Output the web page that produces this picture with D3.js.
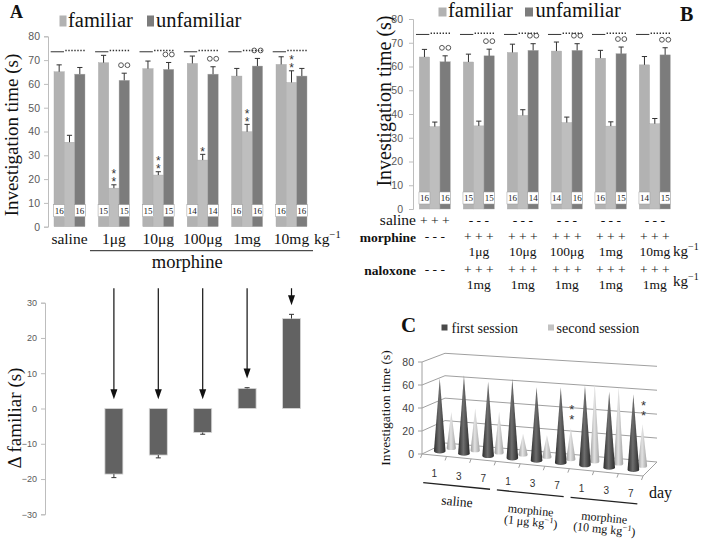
<!DOCTYPE html>
<html><head><meta charset="utf-8">
<script src="https://cdn.jsdelivr.net/npm/d3@7"></script>
<style>body{margin:0;background:#fff}svg{display:block}</style>
</head><body>
<svg id="c" width="709" height="543"></svg>
<script>
// ---------------- DATA ----------------
// Panel A (top)
const groupsA = ["saline","1μg","10μg","100μg","1mg","10mg"];
const familiarA = [65.1, 68.9, 66.4, 68.6, 63.3, 68.2];
const familiarErrA = [2.9, 3.1, 3.2, 3.1, 3.2, 3.2];
const secondA = [35.5, 16.2, 21.7, 28.0, 39.9, 60.6];
const secondErrA = [2.9, 1.4, 1.4, 2.4, 3.1, 4.9];
const unfamiliarA = [64.1, 61.5, 66.1, 64.1, 67.5, 63.3];
const unfamiliarErrA = [2.8, 3.0, 2.9, 3.1, 3.2, 3.2];
const countsA = [[16,16],[15,15],[15,15],[14,14],[16,16],[16,16]];
const starsA = [0, 2, 2, 1, 2, 2];
const circlesA = [false, true, true, true, true, false];
const ticksA = [0,10,20,30,40,50,60,70,80];
// Panel A (bottom)
const deltaGroups = ["1μg","10μg","100μg","1mg","10mg"];
const deltaFamiliar = [-18.6, -13.2, -6.8, 5.7, 25.5];
const deltaErr = [1.0, 0.8, 0.5, 0.2, 1.2];
const ticksDelta = [-30,-20,-10,0,10,20,30];
// Panel B
const groupsB = ["saline","1μg","10μg","100μg","1mg","10mg"];
const familiarB = [64.0, 61.9, 65.9, 66.5, 63.5, 60.7];
const familiarErrB = [3.2, 3.3, 3.5, 3.8, 3.3, 3.5];
const secondB = [34.7, 35.0, 39.4, 36.4, 34.9, 35.9];
const secondErrB = [1.9, 2.0, 2.4, 2.3, 1.8, 2.2];
const unfamiliarB = [62.0, 64.5, 66.8, 66.8, 65.4, 64.9];
const unfamiliarErrB = [2.5, 2.8, 2.8, 2.8, 2.8, 3.0];
const countsB = [[16,16],[15,15],[16,14],[14,16],[16,15],[14,15]];
const circlesB = [true, true, true, true, true, true];
const salineRow = ["+ + +","- - -","- - -","- - -","- - -","- - -"];
const morphineRow = ["- - -","+ + +","+ + +","+ + +","+ + +","+ + +"];
const morphineDose = ["","1μg","10μg","100μg","1mg","10mg"];
const naloxoneRow = ["- - -","+ + +","+ + +","+ + +","+ + +","+ + +"];
const naloxoneDose = ["","1mg","1mg","1mg","1mg","1mg"];
// Panel C
const daysC = ["1","3","7","1","3","7","1","3","7"];
const treatmentsC = ["saline","morphine|(1 μg kg","morphine|(10 mg kg"];
const firstSession = [63.8, 67.9, 64.0, 68.0, 62.6, 64.0, 67.0, 63.2, 62.5];
const secondSession = [31.8, 36.6, 35.6, 18.2, 19.0, 26.7, 65.9, 64.4, 34.9];
const starsC = [0,0,0,0,0,2,0,0,2];
const ticksC = [0,20,40,60,80];

// ---------------- HELPERS ----------------
const svg = d3.select("#c");
const SERIF = "'Liberation Serif','Times New Roman',serif";
const SANS = "'Liberation Sans',Arial,sans-serif";
const cFam = "#b2b2b2", cSec = "#bebebe", cUnf = "#7c7c7c";

function txt(g, x, y, s, o = {}) {
  const t = g.append("text").attr("x", x).attr("y", y).text(s)
    .attr("font-family", o.font || SERIF).attr("font-size", o.size || 14)
    .attr("fill", o.fill || "#111").attr("text-anchor", o.anchor || "start");
  if (o.weight) t.attr("font-weight", o.weight);
  if (o.rotate) t.attr("transform", `rotate(${o.rotate},${x},${y})`);
  return t;
}
function sup(t, s, size, dy) {
  t.append("tspan").attr("dy", -dy).attr("font-size", size).text(s);
  return t;
}
// stacked asterisks as one text element; bottom star centred near yBottom
function starStack(g, cx, yBottom, n, size, gap) {
  const t = g.append("text").attr("font-family", SANS).attr("font-size", size)
    .attr("fill", "#333").attr("text-anchor", "middle");
  for (let k = 0; k < n; k++) {
    t.append("tspan").attr("x", cx)
      .attr("y", yBottom - gap * (n - 1 - k) + size * 0.55).text("*");
  }
  return t;
}
function styleAxis(ax, fs) {
  ax.select(".domain").attr("stroke", "#bdbdbd");
  ax.selectAll(".tick line").attr("stroke", "#bdbdbd");
  ax.selectAll(".tick text").attr("fill", "#5a5a5a").attr("font-family", SANS).attr("font-size", fs);
}

function barPanel(cfg) {
  const { x, y, series, errs, colors, counts, countOff, stars, circles, sigV } = cfg;
  const g = svg.append("g");
  const sub = d3.scaleBand().domain(d3.range(series.length)).range([0, x.bandwidth()]);
  const groups = x.domain();
  groups.forEach((grp, gi) => {
    series.forEach((s, si) => {
      g.append("rect").attr("x", x(grp) + sub(si)).attr("y", y(s[gi]))
        .attr("width", sub.bandwidth()).attr("height", y(0) - y(s[gi]))
        .attr("fill", colors[si]).attr("stroke", "#a9a9a9").attr("stroke-width", 0.4);
    });
  });
  groups.forEach((grp, gi) => {
    series.forEach((s, si) => {
      const v = s[gi], e = errs[si][gi];
      const cx = x(grp) + sub(si) + sub.bandwidth() / 2;
      g.append("line").attr("x1", cx).attr("x2", cx).attr("y1", y(v)).attr("y2", y(v + e))
        .attr("stroke", "#333").attr("stroke-width", 1);
      g.append("line").attr("x1", cx - 2.6).attr("x2", cx + 2.6).attr("y1", y(v + e)).attr("y2", y(v + e))
        .attr("stroke", "#333").attr("stroke-width", 1);
    });
    [0, 2].forEach((si, k) => {
      const cx = x(grp) + sub(si) + sub.bandwidth() / 2;
      const cy = y(0) - countOff;
      g.append("rect").attr("x", cx - 5.5).attr("y", cy - 6).attr("width", 11).attr("height", 12)
        .attr("fill", "#fff").attr("stroke", "#9a9a9a").attr("stroke-width", 0.5);
      txt(g, cx, cy + 3.2, String(counts[gi][k]), { size: 9, anchor: "middle", fill: "#222" });
    });
    const x0 = x(grp);
    g.append("line").attr("x1", x0 - 3.3).attr("x2", x0 + 10).attr("y1", y(sigV)).attr("y2", y(sigV))
      .attr("stroke", "#333").attr("stroke-width", 1);
    g.append("line").attr("x1", x0 + 11.3).attr("x2", x0 + x.bandwidth()).attr("y1", y(sigV) - 1.2).attr("y2", y(sigV) - 1.2)
      .attr("stroke", "#333").attr("stroke-width", 1.6).attr("stroke-dasharray", "1.4,1.6");
    if (circles[gi]) {
      const cx = x(grp) + sub(2) + sub.bandwidth() / 2;
      const cy = y(series[2][gi] + errs[2][gi]) - 8;
      [-3.2, 3.2].forEach(d => g.append("circle").attr("cx", cx + d).attr("cy", cy).attr("r", 2.4)
        .attr("fill", "none").attr("stroke", "#444").attr("stroke-width", 0.9));
    }
    if (stars && stars[gi]) {
      const cx = x(grp) + sub(1) + sub.bandwidth() / 2;
      const top = y(series[1][gi] + errs[1][gi]);
      starStack(g, cx, top - 5, stars[gi], 12, 8);
    }
  });
  return sub;
}

// ---------------- PANEL A (top) ----------------
const gA = svg.append("g");
txt(gA, 10, 18, "A", { size: 18, weight: "bold" });
gA.append("rect").attr("x", 59.5).attr("y", 15.5).attr("width", 7).attr("height", 11).attr("fill", cFam);
txt(gA, 68, 26.5, "familiar", { size: 20.5 });
gA.append("rect").attr("x", 147).attr("y", 15.5).attr("width", 7).attr("height", 11).attr("fill", cUnf);
txt(gA, 156, 26.5, "unfamiliar", { size: 20.5 });

const xA = d3.scaleBand().domain(groupsA).range([48, 313]).paddingInner(0.302).paddingOuter(0.135);
const yA = d3.scaleLinear().domain([0, 80]).range([226.7, 36.3]);
const axA = gA.append("g").attr("transform", "translate(48,0)")
  .call(d3.axisLeft(yA).tickValues(ticksA).tickSize(4).tickPadding(4));
styleAxis(axA, 10.5);
const subA = barPanel({ x: xA, y: yA, series: [familiarA, secondA, unfamiliarA],
  errs: [familiarErrA, secondErrA, unfamiliarErrA], colors: [cFam, cSec, cUnf],
  counts: countsA, countOff: 16, stars: starsA, circles: circlesA, sigV: 73.5 });
txt(gA, 18, 135, "Investigation time (s)", { size: 19, anchor: "middle", rotate: -90 });
groupsA.forEach(gp => txt(gA, xA(gp) + xA.bandwidth() / 2, 243.5, gp, { size: 15.5, anchor: "middle" }));
sup(txt(gA, 314, 243.5, "kg", { size: 15.5 }), "−1", 10.5, 6);
gA.append("line").attr("x1", xA("1μg") - 8.4).attr("x2", xA("10mg") + xA.bandwidth() + 6)
  .attr("y1", 250.7).attr("y2", 250.7).attr("stroke", "#222").attr("stroke-width", 1);
txt(gA, xA("100μg"), 268, "morphine", { size: 18.5, anchor: "middle" });

// ---------------- PANEL A (bottom) ----------------
const gD = svg.append("g");
const yD = d3.scaleLinear().domain([-30, 30]).range([514.3, 302.7]);
const axD = gD.append("g").attr("transform", "translate(45,0)")
  .call(d3.axisLeft(yD).tickValues(ticksDelta).tickSize(4).tickPadding(4));
styleAxis(axD, 9);
txt(gD, 21, 418, "Δ familiar (s)", { size: 19, anchor: "middle", rotate: -90 });
deltaGroups.forEach((gp, i) => {
  const cx = xA(gp) + subA(1) + subA.bandwidth() / 2;
  const v = deltaFamiliar[i], e = deltaErr[i];
  gD.append("rect").attr("x", cx - 9).attr("y", Math.min(yD(v), yD(0))).attr("width", 18)
    .attr("height", Math.abs(yD(v) - yD(0))).attr("fill", "#626262").attr("stroke", "#d8d8d8").attr("stroke-width", 0.8);
  const ve = v < 0 ? v - e : v + e;
  gD.append("line").attr("x1", cx).attr("x2", cx).attr("y1", yD(v)).attr("y2", yD(ve)).attr("stroke", "#333");
  gD.append("line").attr("x1", cx - 2.5).attr("x2", cx + 2.5).attr("y1", yD(ve)).attr("y2", yD(ve)).attr("stroke", "#333");
  const tip = yD(Math.max(0, ve) + 2.6);
  gD.append("line").attr("x1", cx).attr("x2", cx).attr("y1", yD(34.1)).attr("y2", tip - 8).attr("stroke", "#111").attr("stroke-width", 1.2);
  gD.append("path").attr("d", `M${cx - 3.5},${tip - 10} L${cx + 3.5},${tip - 10} L${cx},${tip} Z`).attr("fill", "#111");
});

// ---------------- PANEL B ----------------
const gB = svg.append("g");
txt(gB, 680, 21, "B", { size: 20, weight: "bold" });
gB.append("rect").attr("x", 438.5).attr("y", 7.5).attr("width", 8).attr("height", 9).attr("fill", cFam);
txt(gB, 448, 16.7, "familiar", { size: 20.5 });
gB.append("rect").attr("x", 525).attr("y", 7.5).attr("width", 8).attr("height", 9).attr("fill", cUnf);
txt(gB, 535.5, 16.7, "unfamiliar", { size: 20.5 });
const xB = d3.scaleBand().domain(groupsB).range([413, 676.6]).paddingInner(0.295).paddingOuter(0.143);
const yB = d3.scaleLinear().domain([0, 80]).range([209, 19]);
const axB = gB.append("g").attr("transform", "translate(413,0)")
  .call(d3.axisLeft(yB).tickValues(ticksA).tickSize(4).tickPadding(6));
styleAxis(axB, 10.5);
barPanel({ x: xB, y: yB, series: [familiarB, secondB, unfamiliarB],
  errs: [familiarErrB, secondErrB, unfamiliarErrB], colors: [cFam, cSec, cUnf],
  counts: countsB, countOff: 11, stars: null, circles: circlesB, sigV: 73.5 });
txt(gB, 391, 101, "Investigation time (s)", { size: 20, anchor: "middle", rotate: -90 });
const cB = gp => xB(gp) + xB.bandwidth() / 2;
txt(gB, 416, 225, "saline", { size: 15.5, anchor: "end" });
txt(gB, 416, 242, "morphine", { size: 13.5, anchor: "end", weight: "bold" });
txt(gB, 416, 275, "naloxone", { size: 13.5, anchor: "end", weight: "bold" });
groupsB.forEach((gp, i) => {
  txt(gB, cB(gp), 225, salineRow[i], { size: 13.5, anchor: "middle" });
  txt(gB, cB(gp), 241, morphineRow[i], { size: 13.5, anchor: "middle" });
  txt(gB, cB(gp), 256, morphineDose[i], { size: 13.5, anchor: "middle" });
  txt(gB, cB(gp), 274, naloxoneRow[i], { size: 13.5, anchor: "middle" });
  txt(gB, cB(gp), 289, naloxoneDose[i], { size: 13.5, anchor: "middle" });
});
sup(txt(gB, 673, 256, "kg", { size: 15 }), "−1", 10, 6);
sup(txt(gB, 673, 286, "kg", { size: 15 }), "−1", 10, 6);

// ---------------- PANEL C ----------------
const gC = svg.append("g");
txt(gC, 401, 332, "C", { size: 21, weight: "bold" });
gC.append("rect").attr("x", 441.5).attr("y", 324.5).attr("width", 6).attr("height", 6).attr("fill", "#4a4a4a");
txt(gC, 451.5, 333, "first session", { size: 14 });
gC.append("rect").attr("x", 548).attr("y", 324.5).attr("width", 6).attr("height", 6).attr("fill", "#c2c2c2");
txt(gC, 556.5, 333, "second session", { size: 14 });

const uC = d3.scaleBand().domain(d3.range(9)).range([0, 1]);
const vC = d3.scaleLinear().domain([0, 80]).range([0, 1]);
function proj(u, w, v) {
  const x = (1 - u) * (422 + 23 * w) + u * (643 + 14 * w);
  const y0 = (1 - u) * (454 - 11 * w) + u * (476 - 14 * w);
  const k = (1 - u) * (92 - 2.3 * w) + u * (97 - 1.3 * w);
  return [x, y0 - k * vC(v)];
}
const line = d3.line();
const gridCol = "#a0a0a0";
ticksC.forEach(t => {
  gC.append("path").attr("d", line([proj(0, 0, t), proj(0, 1, t), proj(1, 1, t)]))
    .attr("fill", "none").attr("stroke", gridCol).attr("stroke-width", 1);
  const p = proj(0, 0, t);
  gC.append("line").attr("x1", p[0] - 4).attr("x2", p[0]).attr("y1", p[1]).attr("y2", p[1]).attr("stroke", gridCol);
  txt(gC, p[0] - 8, p[1] + 3.5, String(t), { font: SANS, size: 10.5, anchor: "end", fill: "#444" });
});
gC.append("path").attr("d", line([proj(0, 0, 80), proj(0, 0, 0), proj(1, 0, 0), proj(1, 1, 0)]))
  .attr("fill", "none").attr("stroke", gridCol).attr("stroke-width", 1);
d3.range(10).forEach(k => {
  const p = proj(k / 9, 0, 0);
  gC.append("line").attr("x1", p[0]).attr("x2", p[0] - 1.5).attr("y1", p[1]).attr("y2", p[1] + 4).attr("stroke", gridCol);
});
txt(gC, 390, 408, "Investigation time (s)", { size: 13.5, anchor: "middle", rotate: -90 });

const defs = svg.append("defs");
function grad(id, stops) {
  const lg = defs.append("linearGradient").attr("id", id).attr("x1", 0).attr("x2", 1).attr("y1", 0).attr("y2", 0);
  stops.forEach(([o, c]) => lg.append("stop").attr("offset", o).attr("stop-color", c));
}
grad("gDark", [[0, "#2c2c2c"], [0.45, "#6e6e6e"], [1, "#2a2a2a"]]);
grad("gLight", [[0, "#9a9a9a"], [0.45, "#e2e2e2"], [1, "#a4a4a4"]]);
function cone(u, w, v, r, fill) {
  const [bx, by] = proj(u, w, 0);
  const [tx, ty] = proj(u, w, v);
  gC.append("path")
    .attr("d", `M${bx - r},${by} L${tx},${ty} L${bx + r},${by} A${r},${r * 0.4} 0 0 1 ${bx - r},${by} Z`)
    .attr("fill", fill);
  return [tx, ty];
}
const tipsLight = secondSession.map((v, i) => cone(uC(i) + uC.bandwidth() * 0.6, 0.65, v, 4.6, "url(#gLight)"));
firstSession.forEach((v, i) => cone(uC(i) + uC.bandwidth() * 0.4, 0.35, v, 5.8, "url(#gDark)"));
starsC.forEach((n, i) => {
  if (n) starStack(gC, tipsLight[i][0] + 1, tipsLight[i][1] - 11, n, 13, 10);
});
daysC.forEach((d, i) => {
  const p = proj(uC(i) + uC.bandwidth() / 2, 0, 0);
  txt(gC, p[0], p[1] + 22, d, { font: SANS, size: 10, anchor: "middle", fill: "#333" });
});
txt(gC, 649, 498, "day", { size: 16 });
treatmentsC.forEach((tr, g) => {
  const u1 = uC(3 * g) + uC.bandwidth() / 2 - 0.05, u2 = uC(3 * g + 2) + uC.bandwidth() / 2 + 0.03;
  const p1 = proj(u1, 0, 0), p2 = proj(u2, 0, 0);
  gC.append("line").attr("x1", p1[0]).attr("y1", p1[1] + 28.5).attr("x2", p2[0]).attr("y2", p2[1] + 28.5)
    .attr("stroke", "#222").attr("stroke-width", 1.3);
  const mx = (p1[0] + p2[0]) / 2, my = (p1[1] + p2[1]) / 2 + 28.5;
  const parts = tr.split("|");
  if (parts.length === 1) {
    txt(gC, mx, my + 20, parts[0], { size: 13.5, anchor: "middle", rotate: 5.5 });
  } else {
    txt(gC, mx, my + 21, parts[0], { size: 12, anchor: "middle", rotate: 5.5 });
    const t = txt(gC, mx, my + 32.5, parts[1], { size: 12, anchor: "middle", rotate: 5.5 });
    t.append("tspan").attr("dy", -4.5).attr("font-size", 8.5).text("−1");
    t.append("tspan").attr("dy", 4.5).text(")");
  }
});
</script>
</body></html>
